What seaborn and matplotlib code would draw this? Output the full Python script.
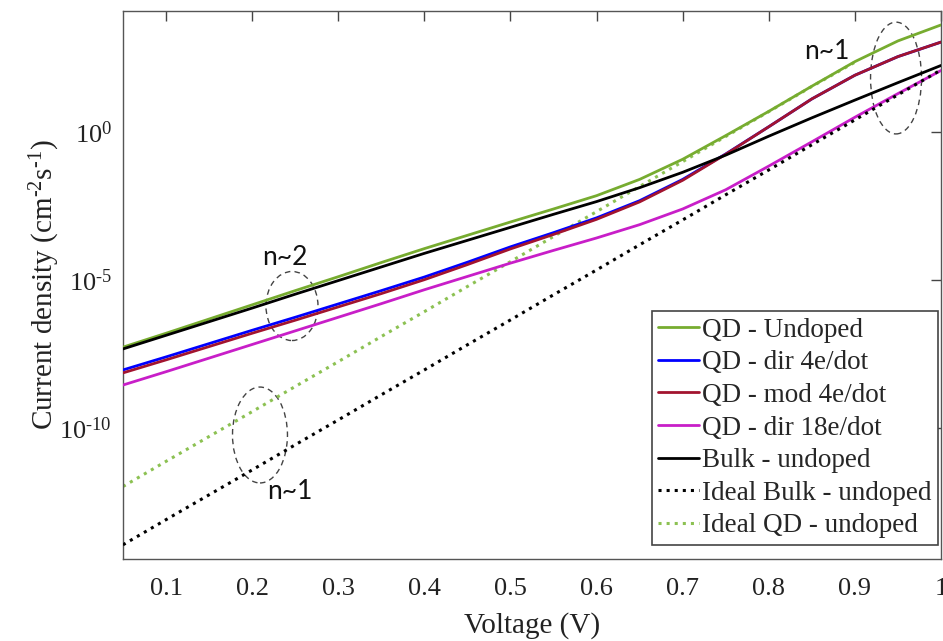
import matplotlib
matplotlib.use("Agg")
import matplotlib.pyplot as plt
from matplotlib.patches import Ellipse
from matplotlib.ticker import FixedLocator, FixedFormatter, NullLocator
import numpy as np
import pandas as pd
import seaborn as sns

# Data (log10 of current density)
voltage = [0.05, 0.10, 0.15, 0.20, 0.25, 0.30, 0.35, 0.40, 0.45, 0.50,
           0.55, 0.60, 0.65, 0.70, 0.75, 0.80, 0.85, 0.90, 0.95, 1.00]

qd_undoped = [-7.27, -6.80, -6.32, -5.84, -5.36, -4.89, -4.41, -3.94, -3.49, -3.04,
              -2.60, -2.15, -1.60, -0.92, -0.12, 0.70, 1.55, 2.38, 3.08, 3.62]
qd_dir4 = [-8.04, -7.60, -7.15, -6.70, -6.26, -5.81, -5.36, -4.90, -4.40, -3.88,
           -3.40, -2.90, -2.32, -1.60, -0.74, 0.18, 1.12, 1.92, 2.55, 3.04]
qd_mod4 = [-8.14, -7.70, -7.25, -6.80, -6.36, -5.91, -5.46, -4.99, -4.48, -3.95,
           -3.46, -2.95, -2.36, -1.63, -0.75, 0.18, 1.12, 1.92, 2.55, 3.04]
qd_dir18 = [-8.55, -8.10, -7.64, -7.18, -6.72, -6.26, -5.80, -5.33, -4.88, -4.43,
            -4.00, -3.58, -3.13, -2.60, -1.95, -1.15, -0.33, 0.50, 1.30, 2.08]
bulk_undoped = [-7.33, -6.87, -6.41, -5.95, -5.48, -5.02, -4.56, -4.10, -3.66, -3.22,
                -2.78, -2.35, -1.88, -1.36, -0.78, -0.14, 0.48, 1.08, 1.67, 2.25]
ideal_bulk = [-13.95, -13.10, -12.26, -11.42, -10.57, -9.73, -8.88, -8.04, -7.19, -6.35,
              -5.50, -4.66, -3.81, -2.97, -2.12, -1.28, -0.43, 0.41, 1.26, 2.10]
ideal_qd = [-11.98, -11.13, -10.29, -9.45, -8.60, -7.76, -6.91, -6.07, -5.22, -4.38,
            -3.53, -2.69, -1.84, -1.00, -0.15, 0.69, 1.54, 2.36]

# name, values, colour, style, drawing order
series = [
    ("QD - Undoped", qd_undoped, "#77AC30", "-", 3),
    ("QD - dir 4e/dot", qd_dir4, "#0000FF", "-", 3),
    ("QD - mod 4e/dot", qd_mod4, "#A2142F", "-", 3),
    ("QD - dir 18e/dot", qd_dir18, "#C81EC8", "-", 3),
    ("Bulk - undoped", bulk_undoped, "#000000", "-", 3),
    ("Ideal Bulk - undoped", ideal_bulk, "#000000", ":", 4),
    ("Ideal QD - undoped", ideal_qd, "#8CC152", ":", 2),
]

sns.set_style("white")
plt.rcParams["font.family"] = ["Liberation Serif", "DejaVu Serif"]
plt.rcParams["mathtext.fontset"] = "custom"
plt.rcParams["mathtext.rm"] = "Liberation Serif"
plt.rcParams["mathtext.it"] = "Liberation Serif"

fig = plt.figure(figsize=(9.43, 6.41), dpi=100)
ax = fig.add_axes([0.1304, 0.1279, 0.8675, 0.8549])

for name, vals, color, ls, z in series:
    df = pd.DataFrame({"V": voltage[:len(vals)], "J": 10.0 ** np.array(vals)})
    sns.lineplot(data=df, x="V", y="J", ax=ax, color=color, linestyle=ls,
                 linewidth=2.0 if ls == "-" else 2.2, label=name, zorder=z)

ax.set_yscale("log")
ax.set_xlim(0.05, 1.0)
ax.set_ylim(10 ** -14.43, 10 ** 4.09)

ax.xaxis.set_major_locator(FixedLocator([0.1, 0.2, 0.3, 0.4, 0.5, 0.6, 0.7, 0.8, 0.9, 1.0]))
ax.xaxis.set_major_formatter(FixedFormatter(["0.1", "0.2", "0.3", "0.4", "0.5",
                                             "0.6", "0.7", "0.8", "0.9", "1"]))
ax.yaxis.set_major_locator(FixedLocator([1e-10, 1e-5, 1e0]))
ax.yaxis.set_major_formatter(FixedFormatter([r"$10^{\text{-10}}$", r"$10^{\text{-5}}$", r"$10^{0}$"]))
ax.yaxis.set_minor_locator(NullLocator())

ax.tick_params(direction="in", length=7, width=1, colors="#444444",
               labelcolor="#222222", labelsize=19, top=True, right=True, pad=8)
ax.tick_params(axis="x", pad=13.5)
for sp in ax.spines.values():
    sp.set_color("#555555")
    sp.set_linewidth(1.0)

ax.set_xlabel("Voltage (V)", fontsize=21, color="#222222", labelpad=9)
ax.set_ylabel("Current density (cm$^{\\text{-2}}$s$^{\\text{-1}}$)", fontsize=21,
              color="#222222", labelpad=-2)

# dashed ellipses and slope annotations
for cx, cy, w, h in [(0.2066, 0.4617, 0.0636, 0.126),
                     (0.1675, 0.2263, 0.0672, 0.175),
                     (0.945, 0.8777, 0.0623, 0.204)]:
    ax.add_patch(Ellipse((cx, cy), w, h, transform=ax.transAxes, fill=False,
                         edgecolor="#444444", linestyle=(0, (4, 3)), linewidth=1.0))
for tx, ty, s in [(0.198, 0.551, "n~2"), (0.204, 0.124, "n~1"), (0.861, 0.927, "n~1")]:
    ax.text(tx, ty, s, transform=ax.transAxes, ha="center", va="center",
            fontsize=19, family=["Lato", "DejaVu Sans"], color="#111111")

leg = ax.legend(loc="lower right", bbox_to_anchor=(0.9963, 0.0255), fontsize=19.5,
                frameon=True, fancybox=False, edgecolor="#444444", framealpha=1,
                handlelength=1.5, handletextpad=0.1, labelspacing=0.28,
                borderpad=0.25, borderaxespad=0)
leg.get_frame().set_linewidth(1.2)

fig.savefig("out.png", dpi=100)
